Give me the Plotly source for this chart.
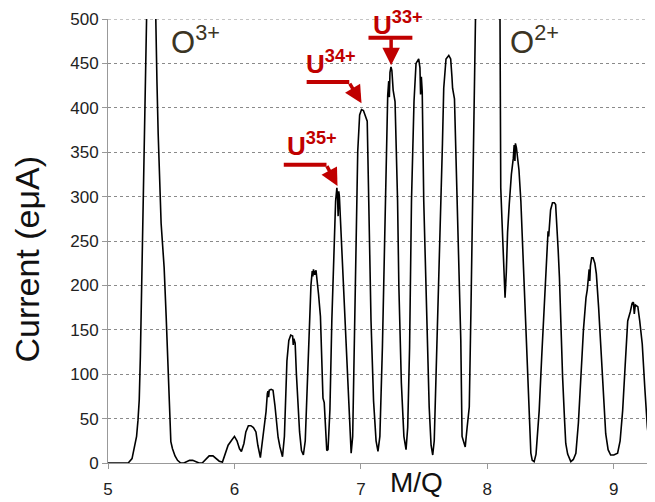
import plotly.graph_objects as go

# M/Q spectrum trace
mq = [
    5.00, 5.10, 5.16, 5.19, 5.20, 5.215, 5.226, 5.237, 5.247, 5.256, 5.265, 5.276, 5.287, 5.296, 5.305,
    5.32, 5.34, 5.36, 5.376, 5.387, 5.397, 5.41, 5.42, 5.432, 5.444, 5.46, 5.476, 5.486, 5.497, 5.51,
    5.53, 5.55, 5.575, 5.60, 5.62, 5.645, 5.67, 5.70, 5.72, 5.745, 5.77, 5.80, 5.83, 5.855, 5.88,
    5.905, 5.925, 5.95, 5.975, 6.00, 6.02, 6.04, 6.055, 6.075, 6.09, 6.11, 6.13, 6.15, 6.17, 6.185,
    6.205, 6.225, 6.24, 6.25, 6.26, 6.265, 6.27, 6.275, 6.29, 6.305, 6.32, 6.335, 6.345, 6.36, 6.38,
    6.395, 6.405, 6.415, 6.43, 6.445, 6.46, 6.465, 6.47, 6.48, 6.49, 6.50, 6.515, 6.53, 6.545, 6.56,
    6.575, 6.59, 6.605, 6.615, 6.62, 6.625, 6.635, 6.645, 6.655, 6.665, 6.68, 6.69, 6.70, 6.71, 6.72,
    6.73, 6.74, 6.755, 6.77, 6.78, 6.79, 6.80, 6.81, 6.815, 6.82, 6.825, 6.83, 6.84, 6.855, 6.87,
    6.885, 6.90, 6.91, 6.923, 6.935, 6.95, 6.965, 6.975, 6.99, 7.005, 7.02, 7.035, 7.05, 7.062, 7.08,
    7.10, 7.12, 7.135, 7.15, 7.17, 7.185, 7.194, 7.20, 7.212, 7.22, 7.225, 7.23, 7.238, 7.245, 7.255,
    7.27, 7.28, 7.29, 7.30, 7.305, 7.32, 7.34, 7.357, 7.37, 7.385, 7.40, 7.41, 7.42, 7.436, 7.457,
    7.467, 7.472, 7.478, 7.485, 7.497, 7.51, 7.525, 7.54, 7.555, 7.568, 7.58, 7.60, 7.62, 7.633, 7.645,
    7.655, 7.673, 7.695, 7.71, 7.72, 7.725, 7.74, 7.752, 7.76, 7.775, 7.79, 7.80, 7.81, 7.818, 7.825,
    7.84, 7.857, 7.87, 7.883, 7.905, 7.95, 8.00, 8.05, 8.09, 8.10, 8.106, 8.115, 8.125, 8.14, 8.15,
    8.16, 8.173, 8.19, 8.205, 8.212, 8.218, 8.222, 8.23, 8.24, 8.25, 8.265, 8.28, 8.29, 8.305, 8.317,
    8.33, 8.344, 8.355, 8.37, 8.385, 8.40, 8.41, 8.43, 8.45, 8.465, 8.475, 8.48, 8.485, 8.49, 8.50,
    8.515, 8.53, 8.54, 8.55, 8.56, 8.57, 8.58, 8.595, 8.61, 8.62, 8.635, 8.66, 8.68, 8.70, 8.72,
    8.74, 8.76, 8.78, 8.79, 8.80, 8.805, 8.81, 8.815, 8.825, 8.836, 8.85, 8.862, 8.88, 8.897, 8.915,
    8.936, 8.955, 8.975, 9.00, 9.03, 9.05, 9.07, 9.09, 9.11, 9.13, 9.145, 9.155, 9.162, 9.17, 9.18,
    9.19, 9.205, 9.225, 9.245, 9.265, 9.285, 9.305, 9.32,
]
current = [
    0, 0, 0, 5, 11, 20, 30, 48, 71, 120, 183, 265, 351, 430, 500,
    640, 760, 640, 500, 430, 370, 310, 270, 245, 220, 165, 108, 60, 24, 16,
    8, 3, 0, 0, 1, 3, 3, 1, 0, 0, 4, 8, 8, 5, 2,
    1, 10, 20, 25, 30, 25, 16, 13, 22, 35, 42, 42, 40, 35, 20,
    6, 28, 50, 58, 78, 81, 74, 82, 83, 82, 65, 40, 29, 18, 7,
    30, 75, 115, 138, 144, 143, 133, 140, 135, 100, 70, 35, 14, 9, 25,
    90, 150, 200, 216, 210, 218, 212, 217, 205, 190, 165, 110, 73, 68, 30,
    14, 15, 60, 160, 213, 250, 295, 310, 300, 278, 306, 300, 270, 230, 183,
    130, 80, 52, 11, 30, 160, 295, 351, 392, 398, 397, 392, 385, 295, 160,
    70, 25, 13, 30, 130, 240, 295, 350, 414, 430, 412, 440, 446, 442, 420,
    407, 351, 295, 200, 168, 90, 30, 15, 40, 130, 295, 350, 407, 450, 455,
    445, 415, 435, 418, 295, 230, 150, 63, 20, 9, 25, 120, 240, 295, 360,
    422, 455, 459, 455, 435, 422, 410, 350, 317, 240, 138, 30, 25, 20, 18,
    40, 63, 170, 287, 500, 900, 1200, 900, 600, 500, 310, 276, 230, 186, 215,
    260, 291, 325, 343, 358, 340, 360, 355, 343, 330, 295, 240, 209, 150, 97,
    45, 11, 3, 1.5, 10, 35, 59, 120, 172, 220, 248, 261, 255, 268, 285,
    293, 293, 291, 270, 240, 209, 160, 97, 50, 22, 10, 1.5, 4, 11, 45,
    97, 150, 186, 195, 210, 218, 205, 222, 231, 231, 225, 213, 175, 134, 85,
    33, 15, 9, 9, 11, 25, 59, 110, 160, 170, 180, 181, 168, 178, 177,
    176, 160, 134, 85, 41, 15, 1.5, 0,
]

x_ticks = [5, 6, 7, 8, 9]
x_tick_labels = ["5", "6", "7", "8", "9"]
y_ticks = [0, 50, 100, 150, 200, 250, 300, 350, 400, 450, 500]
y_tick_labels = [str(v) for v in y_ticks]

FONT = "Arial, Liberation Sans, sans-serif"
RED = "#c00000"
GRID = "#8a8a8a"

fig = go.Figure()
fig.add_trace(go.Scatter(x=mq, y=current, mode="lines",
                         line=dict(color="black", width=1.6), hoverinfo="skip"))

# page body adds an 8px offset, so the figure is 8px smaller
fig.update_layout(
    width=647, height=494,
    margin=dict(l=100, r=2, t=9, b=39),
    paper_bgcolor="white", plot_bgcolor="white",
    showlegend=False,
    font=dict(family=FONT, color="#222"),
)
fig.update_xaxes(
    range=[5, 9.31], tickvals=x_ticks, ticktext=x_tick_labels,
    showgrid=False, zeroline=False,
    showline=True, linecolor="#999", linewidth=1,
    ticks="outside", ticklen=5, tickcolor="#999",
    tickfont=dict(size=17, family=FONT, color="#222"),
    ticklabelstandoff=6, ticklabeloverflow="allow",
)
fig.update_yaxes(
    range=[0, 500], tickvals=y_ticks, ticktext=y_tick_labels,
    showgrid=True, gridcolor=GRID, gridwidth=1, griddash="3px,3px",
    zeroline=False,
    showline=True, linecolor="#999", linewidth=1,
    ticks="outside", ticklen=5, tickcolor="#999",
    tickfont=dict(size=17, family=FONT, color="#222"),
    ticklabeloverflow="allow",
)

OCOL = "#3b3424"
annotations = [
    dict(text="Current (eμA)", xref="paper", yref="paper", x=-0.149, y=0.46,
         textangle=-90, showarrow=False, font=dict(size=34, family=FONT, color="#111"),
         xanchor="center", yanchor="middle"),
    dict(text="M/Q", xref="x", yref="paper", x=7.44, y=-0.045, showarrow=False,
         font=dict(size=28, family=FONT, color="#111"), xanchor="center", yanchor="middle"),
    dict(text="O<sup>3+</sup>", xref="x", yref="y", x=5.48, y=452, showarrow=False,
         font=dict(size=31, family=FONT, color=OCOL), xanchor="left", yanchor="bottom"),
    dict(text="O<sup>2+</sup>", xref="x", yref="y", x=8.165, y=452, showarrow=False,
         font=dict(size=31, family=FONT, color=OCOL), xanchor="left", yanchor="bottom"),
    dict(text="<b>U<sup>35+</sup></b>", xref="x", yref="y", x=6.40, y=338, showarrow=False,
         font=dict(size=26, family=FONT, color=RED), xanchor="left", yanchor="bottom"),
    dict(text="<b>U<sup>34+</sup></b>", xref="x", yref="y", x=6.55, y=430, showarrow=False,
         font=dict(size=26, family=FONT, color=RED), xanchor="left", yanchor="bottom"),
    dict(text="<b>U<sup>33+</sup></b>", xref="x", yref="y", x=7.078, y=474, showarrow=False,
         font=dict(size=26, family=FONT, color=RED), xanchor="left", yanchor="bottom"),
    # arrows
    dict(text="", xref="x", yref="y", axref="x", ayref="y", x=6.815, y=312, ax=6.725, ay=336,
         showarrow=True, arrowhead=2, arrowsize=1, arrowwidth=3.5, arrowcolor=RED),
    dict(text="", xref="x", yref="y", axref="x", ayref="y", x=7.005, y=405, ax=6.905, ay=429,
         showarrow=True, arrowhead=2, arrowsize=1, arrowwidth=3.5, arrowcolor=RED),
    dict(text="", xref="x", yref="y", axref="x", ayref="y", x=7.239, y=448, ax=7.239, ay=479,
         showarrow=True, arrowhead=2, arrowsize=1, arrowwidth=3.5, arrowcolor=RED),
]
fig.update_layout(annotations=annotations)

shapes = [
    # top gridline at the range edge
    dict(type="line", xref="paper", yref="y", x0=0, x1=1, y0=500, y1=500,
         line=dict(color=GRID, width=1, dash="3px,3px"), layer="below"),
    dict(type="line", xref="x", yref="y", x0=6.39, x1=6.728, y0=336, y1=336,
         line=dict(color=RED, width=4)),
    dict(type="line", xref="x", yref="y", x0=6.571, x1=6.908, y0=429, y1=429,
         line=dict(color=RED, width=4)),
    dict(type="line", xref="x", yref="y", x0=7.06, x1=7.407, y0=479, y1=479,
         line=dict(color=RED, width=4)),
]
fig.update_layout(shapes=shapes)

fig.write_html("out.html")
